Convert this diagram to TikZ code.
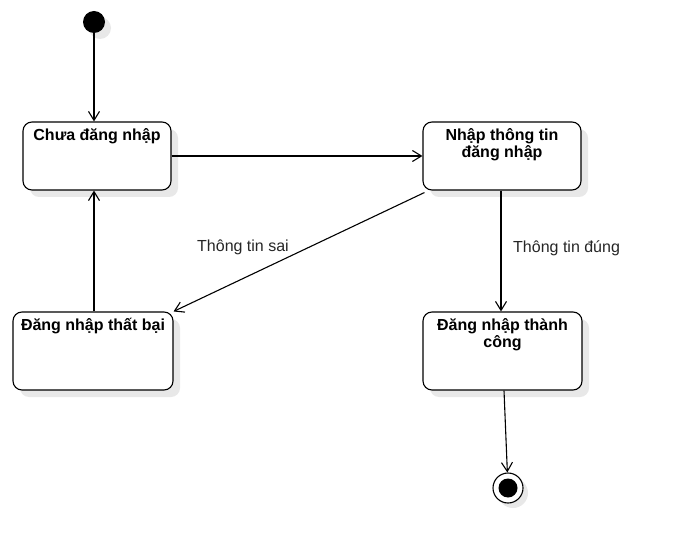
\documentclass[tikz,border=0pt]{standalone}
\usepackage{fontspec}
\setmainfont{Liberation Sans}
\usetikzlibrary{arrows.meta}
\begin{document}
\begin{tikzpicture}[x=1pt,y=-1pt,
  statebox/.style={draw=black,line width=1.1pt,rounded corners=9pt,fill=white,inner sep=0pt},
  shadowbox/.style={fill=black!9,draw=none,rounded corners=9pt},
  title/.style={anchor=north,align=center,font=\fontsize{16}{17}\selectfont\bfseries,inner sep=0pt},
  lbl/.style={font=\fontsize{16}{17}\selectfont,text=black!85,inner sep=0pt},
  conn/.style={line width=1.1pt,-{Straight Barb[length=9pt,width=11pt,line width=1.1pt]}}
]
\useasboundingbox (0,0) rectangle (690,553);
\fill[white] (0,0) rectangle (690,553);
% shadows
\fill[black!9] (100,28) circle (11);
\fill[shadowbox] (30,129) rectangle (178,197);
\fill[shadowbox] (430,129) rectangle (588,197);
\fill[shadowbox] (20,319) rectangle (180,397);
\fill[shadowbox] (430,319) rectangle (589,397);
\fill[black!9] (513,493) circle (15);
% start
\node[circle,fill=black,inner sep=0pt,minimum size=22pt] (start) at (94,22) {};
% boxes
\node[statebox,minimum width=148pt,minimum height=68pt] (b1) at (97,156) {};
\node[statebox,minimum width=158pt,minimum height=68pt] (b2) at (502,156) {};
\node[statebox,minimum width=160pt,minimum height=78pt] (b3) at (93,351) {};
\node[statebox,minimum width=159pt,minimum height=78pt] (b4) at (502.5,351) {};
\node[title] (t1) at ([yshift=-7pt]b1.north) {Chưa đăng nhập};
\node[title] (t2) at ([yshift=-7pt]b2.north) {Nhập thông tin\\đăng nhập};
\node[title] (t3) at ([yshift=-7pt]b3.north) {Đăng nhập thất bại};
\node[title] (t4) at ([yshift=-7pt]b4.north) {Đăng nhập thành\\công};
% end
\node[circle,draw=black,line width=1.1pt,fill=white,inner sep=0pt,minimum size=30pt] (end) at (508,488) {};
\fill[black] (end.center) circle (9.5);
% connectors
\draw[conn] (start) -- (b1.north -| start);
\draw[conn] (b1.east) -- (b2.west);
\draw[conn] ([xshift=2pt,yshift=-2pt]b2.south west) -- (b3.north east);
\draw[conn] ([xshift=-1pt]b2.south) -- ([xshift=-1.5pt]b4.north);
\draw[conn] ([xshift=1pt]b3.north) -- ([xshift=1pt]b3.north |- b1.south);
\draw[conn] ([xshift=1.5pt]b4.south) -- (end);
\node[lbl,anchor=west] (l1) at (197,247) {Thông tin sai};
\node[lbl,anchor=west] (l2) at (513,248) {Thông tin đúng};
\end{tikzpicture}
\end{document}
